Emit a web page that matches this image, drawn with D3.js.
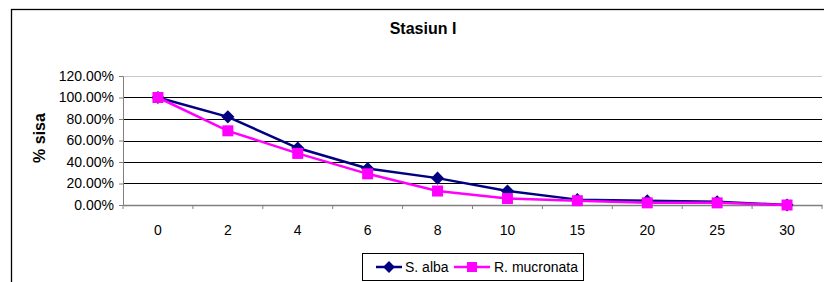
<!DOCTYPE html>
<html>
<head>
<meta charset="utf-8">
<script src="https://cdn.jsdelivr.net/npm/d3@7"></script>
<style>
  body { margin: 0; background: #fff; }
  svg { display: block; font-family: "Liberation Sans", Arial, sans-serif; }
</style>
</head>
<body>
<div id="chart"></div>
<script>
const days = ["0", "2", "4", "6", "8", "10", "15", "20", "25", "30"];
const sAlba = [1.00, 0.82, 0.53, 0.34, 0.25, 0.13, 0.05, 0.04, 0.03, 0.00];
const rMucronata = [1.00, 0.69, 0.48, 0.29, 0.13, 0.06, 0.04, 0.02, 0.02, 0.00];
const yTicks = [0, 0.2, 0.4, 0.6, 0.8, 1.0, 1.2];

const width = 824, height = 282;
const margin = { top: 76, right: 2, bottom: 77, left: 123 };
const innerW = width - margin.left - margin.right;
const innerH = height - margin.top - margin.bottom;

const colors = { alba: "#000080", mucronata: "#FF00FF" };

const svg = d3.select("#chart").append("svg")
  .attr("width", width)
  .attr("height", height);

// Chart area border
svg.append("rect")
  .attr("x", 11.5).attr("y", 9.5)
  .attr("width", 900).attr("height", 400)
  .attr("fill", "none")
  .attr("stroke", "#000")
  .attr("stroke-width", 1.3);

// Title
svg.append("text")
  .attr("x", 423).attr("y", 34)
  .attr("text-anchor", "middle")
  .style("font-size", "16px")
  .style("font-weight", "bold")
  .text("Stasiun I");

const g = svg.append("g")
  .attr("transform", `translate(${margin.left},${margin.top})`);

const x = d3.scaleBand().domain(days).range([0, innerW]);
const y = d3.scaleLinear().domain([0, 1.2]).range([innerH, 0]);

// Gridlines
g.selectAll(".grid")
  .data(yTicks.filter((d) => d > 0))
  .enter()
  .append("line")
  .attr("x1", 0).attr("x2", innerW)
  .attr("y1", (d) => Math.round(y(d)) + 0.5)
  .attr("y2", (d) => Math.round(y(d)) + 0.5)
  .attr("stroke", (d) => (d === 1.2 ? "#c8c8c8" : "#000"))
  .attr("stroke-width", 1);

// Y axis
const yAxis = g.append("g")
  .call(d3.axisLeft(y).tickValues(yTicks).tickSize(4).tickPadding(5)
    .tickFormat((d) => (d * 100).toFixed(2) + "%"));
yAxis.select(".domain").attr("stroke", "#808080");
yAxis.selectAll(".tick line").attr("stroke", "#808080");
yAxis.selectAll("text")
  .style("font-size", "14px")
  .attr("fill", "#000");

// X axis with ticks at category boundaries
const xAxis = g.append("g")
  .attr("transform", `translate(0,${innerH})`)
  .call(d3.axisBottom(x).tickSize(0).tickPadding(20));
xAxis.select(".domain").attr("stroke", "#808080").attr("stroke-width", 1.5);
xAxis.selectAll("text").style("font-size", "14px").attr("fill", "#000");

g.selectAll(".xtick")
  .data(d3.range(days.length + 1))
  .enter()
  .append("line")
  .attr("x1", (i) => i * x.step())
  .attr("x2", (i) => i * x.step())
  .attr("y1", innerH)
  .attr("y2", innerH + 4)
  .attr("stroke", "#808080");

// Y axis label
svg.append("text")
  .attr("transform", "rotate(-90)")
  .attr("x", -138)
  .attr("y", 45)
  .attr("text-anchor", "middle")
  .style("font-size", "16px")
  .style("font-weight", "bold")
  .text("% sisa");

const cx = (i) => x(days[i]) + x.bandwidth() / 2;

const line = d3.line()
  .x((d, i) => cx(i))
  .y((d) => y(d));

// S. alba line
g.append("path")
  .datum(sAlba)
  .attr("fill", "none")
  .attr("stroke", colors.alba)
  .attr("stroke-width", 2.5)
  .attr("d", line);

g.selectAll(".alba")
  .data(sAlba)
  .enter()
  .append("path")
  .attr("d", d3.symbol().type(d3.symbolDiamond2).size(110))
  .attr("transform", (d, i) => `translate(${cx(i)},${y(d)})`)
  .attr("fill", colors.alba);

// R. mucronata line
g.append("path")
  .datum(rMucronata)
  .attr("fill", "none")
  .attr("stroke", colors.mucronata)
  .attr("stroke-width", 2.5)
  .attr("d", line);

g.selectAll(".mucro")
  .data(rMucronata)
  .enter()
  .append("rect")
  .attr("x", (d, i) => cx(i) - 5.5)
  .attr("y", (d) => y(d) - 5.5)
  .attr("width", 11)
  .attr("height", 11)
  .attr("fill", colors.mucronata);

// Legend
const legend = svg.append("g");
legend.append("rect")
  .attr("x", 362.5).attr("y", 253.5)
  .attr("width", 221).attr("height", 27)
  .attr("fill", "#fff")
  .attr("stroke", "#000");

const items = [
  { label: "S. alba", color: colors.alba, shape: "diamond", x0: 376, x1: 402, tx: 405 },
  { label: "R. mucronata", color: colors.mucronata, shape: "square", x0: 454, x1: 490, tx: 494 },
];

items.forEach((it) => {
  legend.append("line")
    .attr("x1", it.x0).attr("x2", it.x1)
    .attr("y1", 267).attr("y2", 267)
    .attr("stroke", it.color)
    .attr("stroke-width", 2.5);
  const mx = (it.x0 + it.x1) / 2;
  if (it.shape === "diamond") {
    legend.append("path")
      .attr("d", d3.symbol().type(d3.symbolDiamond2).size(90))
      .attr("transform", `translate(${mx},267)`)
      .attr("fill", it.color);
  } else {
    legend.append("rect")
      .attr("x", mx - 5).attr("y", 262)
      .attr("width", 10).attr("height", 10)
      .attr("fill", it.color);
  }
  legend.append("text")
    .attr("x", it.tx).attr("y", 272)
    .style("font-size", "14px")
    .text(it.label);
});
</script>
</body>
</html>
